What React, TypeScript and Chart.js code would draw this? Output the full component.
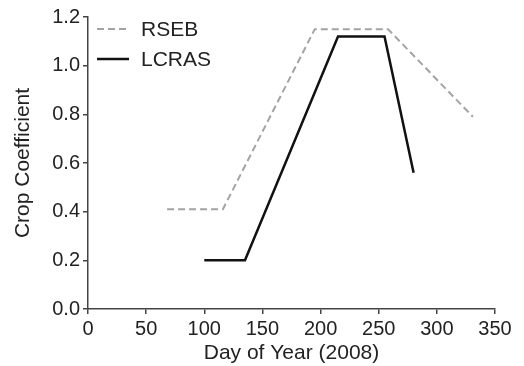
import { useEffect, useRef } from "react";
import { Chart, registerables } from "chart.js";
Chart.register(...registerables);

const seriesNames = ["RSEB", "LCRAS"];
const rsebDays = [68, 116, 195, 258, 331];
const rsebKc = [0.41, 0.41, 1.15, 1.15, 0.79];
const lcrasDays = [100, 135, 215, 255, 280];
const lcrasKc = [0.2, 0.2, 1.12, 1.12, 0.56];
const xTickValues = [0, 50, 100, 150, 200, 250, 300, 350];
const yTickValues = [0, 0.2, 0.4, 0.6, 0.8, 1.0, 1.2];
const xTitle = "Day of Year (2008)";
const yTitle = "Crop Coefficient";

const FONT = "'Liberation Sans', Arial, sans-serif";
const AXIS = "#444444";

const legendPlugin = {
  id: "customLegend",
  afterDraw(chart: any) {
    const ctx = chart.ctx;
    const area = chart.chartArea;
    ctx.save();
    chart.data.datasets.forEach((ds: any, i: number) => {
      const y = area.top + 12 + i * 30;
      const x0 = area.left + 9;
      ctx.beginPath();
      ctx.strokeStyle = ds.borderColor;
      ctx.lineWidth = ds.borderWidth;
      ctx.setLineDash(ds.borderDash || []);
      ctx.moveTo(x0, y);
      ctx.lineTo(x0 + 32, y);
      ctx.stroke();
      ctx.setLineDash([]);
      ctx.fillStyle = "#222";
      ctx.font = `21px ${FONT}`;
      ctx.textBaseline = "middle";
      ctx.textAlign = "left";
      ctx.fillText(ds.label, x0 + 44, y + 1);
    });
    ctx.restore();
  },
};

export default function App() {
  const ref = useRef<HTMLCanvasElement>(null);
  useEffect(() => {
    if (!ref.current) return;
    const chart = new Chart(ref.current, {
      type: "line",
      data: {
        datasets: [
          {
            label: seriesNames[0],
            data: rsebDays.map((d, i) => ({ x: d, y: rsebKc[i] })),
            borderColor: "#a3a3a3",
            borderWidth: 2,
            borderDash: [7, 4],
            pointRadius: 0,
            fill: false,
            tension: 0,
          },
          {
            label: seriesNames[1],
            data: lcrasDays.map((d, i) => ({ x: d, y: lcrasKc[i] })),
            borderColor: "#111111",
            borderWidth: 2.5,
            pointRadius: 0,
            fill: false,
            tension: 0,
          },
        ],
      },
      options: {
        animation: false,
        responsive: false,
        layout: { padding: { top: 17, right: 29, left: 0, bottom: 0 } },
        plugins: { legend: { display: false }, tooltip: { enabled: false } },
        scales: {
          x: {
            type: "linear",
            min: 0,
            max: 350,
            afterBuildTicks: (s: any) => {
              s.ticks = xTickValues.map((v) => ({ value: v }));
            },
            afterFit: (s: any) => {
              s.height = 57;
            },
            grid: { drawOnChartArea: false, drawTicks: true, tickLength: 5, color: AXIS, lineWidth: 1.5 },
            border: { display: true, color: AXIS, width: 1.5 },
            ticks: { color: "#222", font: { family: FONT, size: 20 }, padding: 3, maxRotation: 0 },
            title: { display: true, text: xTitle, color: "#222", font: { family: FONT, size: 21 }, padding: { top: 0, bottom: 0 } },
          },
          y: {
            type: "linear",
            min: 0,
            max: 1.2,
            afterBuildTicks: (s: any) => {
              s.ticks = yTickValues.map((v) => ({ value: v }));
            },
            afterFit: (s: any) => {
              s.width = 88;
            },
            grid: { drawOnChartArea: false, drawTicks: true, tickLength: 5, color: AXIS, lineWidth: 1.5 },
            border: { display: true, color: AXIS, width: 1.5 },
            ticks: {
              color: "#222",
              font: { family: FONT, size: 20 },
              padding: 3,
              callback: (v: any) => Number(v).toFixed(1),
            },
            title: { display: true, text: yTitle, color: "#222", font: { family: FONT, size: 21 }, padding: { top: 11, bottom: 0 } },
          },
        },
      },
      plugins: [legendPlugin],
    });
    return () => chart.destroy();
  }, []);
  return (
    <div style={{ position: "fixed", left: 0, top: 0, width: 524, height: 366, background: "#fff" }}>
      <canvas ref={ref} width={524} height={366} />
    </div>
  );
}
